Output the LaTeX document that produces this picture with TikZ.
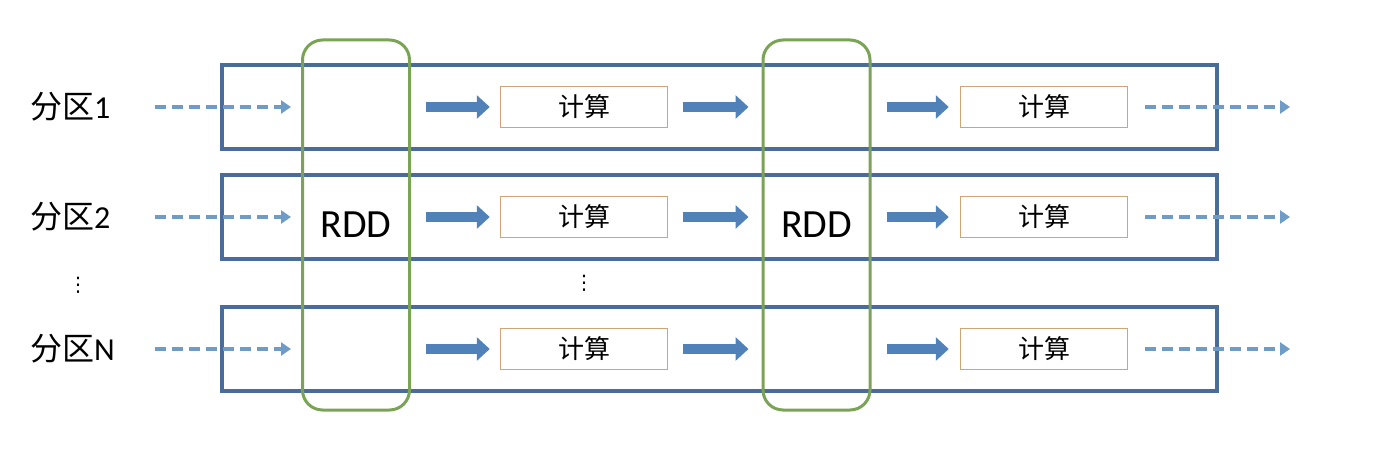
\documentclass[tikz,border=0pt]{standalone}
\usepackage{fontspec}
\setmainfont{Carlito}
\newfontfamily\cjk{Noto Sans CJK SC}
\newfontfamily\sym{DejaVu Sans}
\usepackage{xcolor}
\usetikzlibrary{arrows.meta}
\usetikzlibrary{math}
\definecolor{rowblue}{RGB}{74,108,155}
\definecolor{rddgreen}{RGB}{122,163,86}
\definecolor{flowblue}{RGB}{110,156,198}
\definecolor{arrowblue}{RGB}{80,130,185}
\definecolor{boxtan}{RGB}{205,165,120}

\begin{document}
\begin{tikzpicture}[x=1pt,y=-1pt,
  row/.style={draw=rowblue,line width=4pt,minimum width=995pt,minimum height=84pt,inner sep=0pt},
  rdd/.style={draw=rddgreen,line width=3pt,rounded corners=20pt,minimum width=107pt,minimum height=370pt,inner sep=0pt,font=\fontsize{40}{44}\selectfont},
  calc/.style={draw=boxtan,line width=1.5pt,fill=white,minimum width=167pt,minimum height=41pt,inner sep=0pt,font=\cjk\fontsize{26}{28}\selectfont},
  part/.style={anchor=west,inner sep=0pt,font=\fontsize{32}{34}\selectfont},
  dots/.style={inner sep=0pt,font=\sym\fontsize{20}{22}\selectfont},
  flow/.style={draw=flowblue,line width=3.5pt,dash pattern=on 11pt off 6pt,-{Triangle[length=10pt,width=13pt]}},
  blockarrow/.style={draw=arrowblue,line width=10pt,-{Triangle[length=13pt,width=23pt]}}
]
\tikzmath{
\xa=584;
\xb=1044;
\xin=155;
\xout=1290;
}
\useasboundingbox (0,0) rectangle (1392,452);

\foreach \r/\y/\n in {1/107/1, 2/217/2, 3/349/N}{
  \node[row] (r\r) at (719.5,\y) {};
  \node[part] (p\r) at (30,\y) {{\cjk 分区}\n};
  \node[calc] (c\r a) at (\xa,\y) {计算};
  \node[calc] (c\r b) at (\xb,\y) {计算};
  \coordinate (i\r) at (\xin,\y);
  \coordinate (o\r) at (\xout,\y);
}

\node[rdd] (g1) at (356,225) {RDD};
\node[rdd] (g2) at (816.5,225) {RDD};

\foreach \r in {1,2,3}{
  \draw[flow,shorten >=10pt] (i\r) -- (g1.west|-i\r);
  \draw[blockarrow,shorten <=15pt,shorten >=10pt] (g1.east|-c\r a.west) -- (c\r a.west);
  \draw[blockarrow,shorten <=15pt,shorten >=13pt] (c\r a.east) -- (g2.west|-c\r a.east);
  \draw[blockarrow,shorten <=15pt,shorten >=11pt] (g2.east|-c\r b.west) -- (c\r b.west);
  \draw[flow,shorten <=17pt] (c\r b.east) -- (o\r);
}

\node[dots] (d1) at (78,285) {⋮};
\node[dots] (d2) at (\xa,283) {⋮};
\end{tikzpicture}
\end{document}
